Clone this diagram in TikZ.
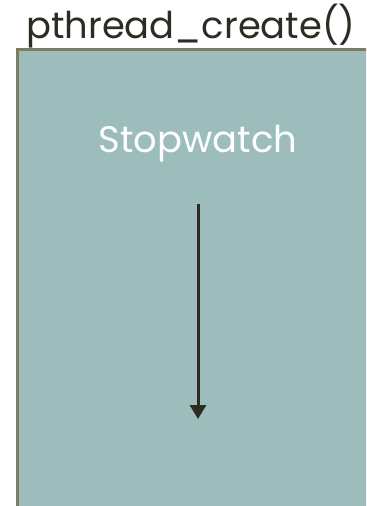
\documentclass[tikz,border=0pt]{standalone}
\usepackage{fontspec}
\setmainfont{Poppins}
\usetikzlibrary{arrows.meta, positioning}
\definecolor{threadfill}{RGB}{157, 189, 189}
\definecolor{threadedge}{RGB}{126, 123, 94}
\definecolor{threadink}{RGB}{46, 43, 34}
\tikzset{
  title/.style={font=\fontsize{21}{25}\selectfont, text=threadink, inner sep=0pt},
  watchlabel/.style={font=\fontsize{21}{25}\selectfont, text=white, inner sep=0pt},
  arr/.style={-{Triangle[length=0.28cm, width=0.32cm]}, line width=0.06cm, threadink}
}

\begin{document}
\begin{tikzpicture}[x=0.02cm, y=-0.02cm]
            \useasboundingbox (0,0) rectangle (366,506);
            \clip (0,0) rectangle (366,506);
            \fill[white] (0,0) rectangle (366,506);
            \draw[fill=threadfill, draw=threadedge, line width=0.06cm] (17,50) rectangle (380,520);
            \node[title, anchor=base] (call) at (191,39) {pthread\_create()};
            \node[watchlabel, anchor=base] (watch) at (198,153) {Stopwatch};
            \coordinate (tstart) at (198,204);
            \coordinate (tend) at (198,419);
            \draw[arr] (tstart) -- (tend);
        \end{tikzpicture}
\end{document}
